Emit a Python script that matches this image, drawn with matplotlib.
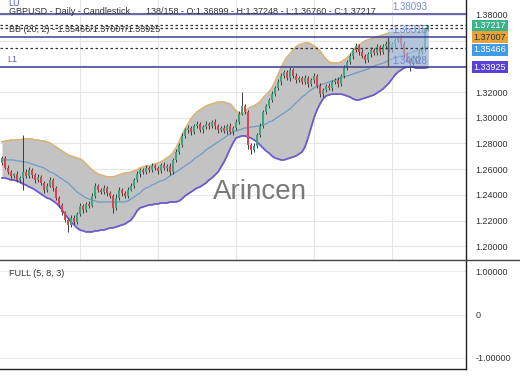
import numpy as np
import matplotlib
matplotlib.use("Agg")
import matplotlib.pyplot as plt
from matplotlib.patches import Rectangle
from matplotlib.lines import Line2D
import matplotlib.transforms as mtransforms

plt.rcParams['font.family'] = ['Liberation Sans', 'DejaVu Sans']

# ---------------- data ----------------
first_open = 1.2650
closes = [
    1.2687, 1.2610, 1.2578, 1.2547, 1.2563, 1.2516, 1.2532, 1.2578, 1.2547, 1.2594,
    1.2555, 1.2516, 1.2540, 1.2493, 1.2439, 1.2470, 1.2516, 1.2454, 1.2376, 1.2322,
    1.2267, 1.2205, 1.2166, 1.2221, 1.2190, 1.2252, 1.2314, 1.2283, 1.2330, 1.2314,
    1.2392, 1.2470, 1.2439, 1.2423, 1.2454, 1.2415, 1.2392, 1.2299, 1.2376, 1.2439,
    1.2415, 1.2392, 1.2439, 1.2470, 1.2516, 1.2563, 1.2594, 1.2578, 1.2610, 1.2594,
    1.2625, 1.2610, 1.2586, 1.2633, 1.2610, 1.2625, 1.2578, 1.2672, 1.2734, 1.2789,
    1.2859, 1.2905, 1.2921, 1.2890, 1.2936, 1.2952, 1.2905, 1.2929, 1.2952, 1.2936,
    1.2968, 1.2936, 1.2905, 1.2921, 1.2897, 1.2936, 1.2890, 1.2921, 1.2968, 1.3030,
    1.3092, 1.3045, 1.2789, 1.2750, 1.2781, 1.2866, 1.2936, 1.3045, 1.3092, 1.3139,
    1.3185, 1.3232, 1.3279, 1.3325, 1.3356, 1.3310, 1.3372, 1.3325, 1.3294, 1.3310,
    1.3279, 1.3310, 1.3263, 1.3294, 1.3325, 1.3248, 1.3185, 1.3217, 1.3248, 1.3232,
    1.3279, 1.3294, 1.3263, 1.3325, 1.3387, 1.3434, 1.3481, 1.3528, 1.3559, 1.3512,
    1.3481, 1.3450, 1.3496, 1.3528, 1.3504, 1.3551, 1.3512, 1.3559, 1.3574, 1.3528,
    1.3574, 1.3606, 1.3621, 1.3574, 1.3496, 1.3450, 1.3418, 1.3465, 1.3450, 1.3512,
    1.3543, 1.36899, 1.37217,
]
wick_up_pips = [
    12, 15, 20, 18, 10, 22, 15, 288, 20, 25,
    18, 14, 22, 16, 12, 20, 25, 15, 12, 14,
    18, 10, 16, 20, 22, 15, 25, 12, 18, 20,
    25, 20, 15, 18, 22, 14, 16, 12, 30, 20,
    18, 15, 22, 25, 16, 20, 14, 18, 22, 15,
    20, 16, 12, 18, 22, 14, 20, 16, 25, 18,
    22, 15, 20, 14, 18, 22, 16, 12, 20, 18,
    15, 22, 18, 14, 20, 16, 25, 18, 22, 20,
    109, 16, 14, 18, 22, 15, 20, 16, 12, 18,
    22, 15, 20, 25, 18, 14, 20, 16, 22, 18,
    15, 20, 14, 18, 22, 16, 20, 15, 18, 22,
    14, 16, 20, 18, 22, 15, 25, 18, 20, 16,
    22, 14, 18, 20, 15, 22, 16, 18, 25, 20,
    14, 18, 16, 22, 20, 15, 18, 22, 16, 20,
    14, 12, 3,
]
wick_dn_pips = [
    15, 12, 18, 20, 14, 16, 22, 93, 18, 15,
    20, 25, 16, 18, 22, 15, 12, 20, 16, 18,
    22, 18, 54, 15, 20, 16, 14, 22, 18, 15,
    12, 18, 20, 16, 14, 22, 18, 40, 15, 18,
    20, 14, 16, 12, 18, 15, 20, 16, 14, 18,
    16, 20, 22, 15, 18, 25, 20, 14, 16, 12,
    18, 15, 20, 22, 16, 14, 18, 20, 15, 22,
    16, 20, 25, 18, 14, 22, 16, 20, 15, 18,
    12, 18, 30, 35, 20, 16, 14, 18, 12, 15,
    14, 18, 16, 20, 15, 18, 22, 16, 20, 14,
    18, 15, 20, 16, 22, 18, 25, 20, 16, 14,
    20, 18, 22, 16, 14, 18, 15, 20, 16, 22,
    18, 20, 15, 22, 18, 16, 20, 15, 22, 18,
    16, 20, 18, 22, 20, 18, 54, 22, 20, 25,
    18, 20, 14,
]
bb_upper = [
    1.2812, 1.2820, 1.2820, 1.2827, 1.2827, 1.2827, 1.2827, 1.2835, 1.2835, 1.2835,
    1.2835, 1.2827, 1.2827, 1.2820, 1.2820, 1.2812, 1.2804, 1.2789, 1.2773, 1.2757,
    1.2742, 1.2726, 1.2711, 1.2703, 1.2695, 1.2687, 1.2680, 1.2664, 1.2641, 1.2617,
    1.2594, 1.2578, 1.2563, 1.2555, 1.2547, 1.2540, 1.2540, 1.2540, 1.2547, 1.2555,
    1.2563, 1.2571, 1.2571, 1.2578, 1.2586, 1.2594, 1.2610, 1.2617, 1.2625, 1.2625,
    1.2633, 1.2641, 1.2648, 1.2656, 1.2672, 1.2687, 1.2703, 1.2726, 1.2765, 1.2812,
    1.2866, 1.2913, 1.2952, 1.2991, 1.3022, 1.3045, 1.3061, 1.3077, 1.3092, 1.3100,
    1.3108, 1.3115, 1.3123, 1.3123, 1.3123, 1.3115, 1.3108, 1.3084, 1.3053, 1.3038,
    1.3030, 1.3045, 1.3069, 1.3084, 1.3092, 1.3108, 1.3123, 1.3154, 1.3178, 1.3201,
    1.3232, 1.3279, 1.3333, 1.3387, 1.3434, 1.3473, 1.3496, 1.3528, 1.3551, 1.3567,
    1.3574, 1.3582, 1.3582, 1.3574, 1.3559, 1.3543, 1.3520, 1.3489, 1.3457, 1.3434,
    1.3426, 1.3426, 1.3426, 1.3434, 1.3450, 1.3465, 1.3489, 1.3520, 1.3551, 1.3567,
    1.3582, 1.3598, 1.3606, 1.3613, 1.3621, 1.3629, 1.3637, 1.3644, 1.3652, 1.3660,
    1.3660, 1.3660, 1.3660, 1.3660, 1.3660, 1.3660, 1.3660, 1.3660, 1.3668, 1.3668,
    1.3676, 1.3691, 1.37007,
]
bb_mid = [
    1.2672, 1.2672, 1.2672, 1.2672, 1.2672, 1.2664, 1.2664, 1.2656, 1.2656, 1.2648,
    1.2641, 1.2633, 1.2625, 1.2617, 1.2610, 1.2594, 1.2578, 1.2571, 1.2555, 1.2540,
    1.2524, 1.2508, 1.2493, 1.2470, 1.2446, 1.2423, 1.2407, 1.2392, 1.2376, 1.2369,
    1.2361, 1.2353, 1.2345, 1.2345, 1.2345, 1.2345, 1.2345, 1.2345, 1.2345, 1.2345,
    1.2345, 1.2345, 1.2353, 1.2369, 1.2384, 1.2400, 1.2415, 1.2439, 1.2454, 1.2462,
    1.2477, 1.2485, 1.2501, 1.2508, 1.2516, 1.2532, 1.2547, 1.2563, 1.2578, 1.2594,
    1.2610, 1.2625, 1.2641, 1.2656, 1.2680, 1.2695, 1.2711, 1.2726, 1.2750, 1.2765,
    1.2781, 1.2796, 1.2812, 1.2827, 1.2843, 1.2859, 1.2874, 1.2890, 1.2897, 1.2905,
    1.2913, 1.2921, 1.2921, 1.2929, 1.2929, 1.2936, 1.2936, 1.2944, 1.2952, 1.2968,
    1.2975, 1.2991, 1.3006, 1.3022, 1.3038, 1.3053, 1.3069, 1.3092, 1.3115, 1.3139,
    1.3162, 1.3178, 1.3201, 1.3217, 1.3232, 1.3248, 1.3255, 1.3263, 1.3271, 1.3279,
    1.3287, 1.3294, 1.3302, 1.3310, 1.3318, 1.3325, 1.3333, 1.3341, 1.3349, 1.3356,
    1.3364, 1.3372, 1.3380, 1.3395, 1.3403, 1.3411, 1.3418, 1.3426, 1.3434, 1.3450,
    1.3457, 1.3465, 1.3473, 1.3481, 1.3489, 1.3496, 1.3504, 1.3512, 1.3520, 1.3528,
    1.3535, 1.3543, 1.35466,
]
bb_lower = [
    1.2532, 1.2532, 1.2524, 1.2516, 1.2516, 1.2508, 1.2501, 1.2485, 1.2477, 1.2462,
    1.2454, 1.2439, 1.2423, 1.2407, 1.2392, 1.2376, 1.2369, 1.2353, 1.2337, 1.2314,
    1.2283, 1.2252, 1.2221, 1.2190, 1.2166, 1.2143, 1.2127, 1.2120, 1.2112, 1.2112,
    1.2112, 1.2120, 1.2120, 1.2127, 1.2127, 1.2135, 1.2143, 1.2143, 1.2151, 1.2158,
    1.2166, 1.2174, 1.2190, 1.2205, 1.2236, 1.2275, 1.2299, 1.2306, 1.2314, 1.2322,
    1.2322, 1.2330, 1.2330, 1.2337, 1.2337, 1.2337, 1.2345, 1.2345, 1.2345, 1.2353,
    1.2369, 1.2392, 1.2407, 1.2423, 1.2439, 1.2454, 1.2462, 1.2477, 1.2493, 1.2516,
    1.2532, 1.2555, 1.2578, 1.2617, 1.2656, 1.2703, 1.2757, 1.2804, 1.2843, 1.2851,
    1.2859, 1.2859, 1.2851, 1.2843, 1.2827, 1.2812, 1.2789, 1.2765, 1.2742, 1.2726,
    1.2703, 1.2687, 1.2680, 1.2672, 1.2672, 1.2680, 1.2687, 1.2695, 1.2703, 1.2719,
    1.2734, 1.2773, 1.2843, 1.2921, 1.2999, 1.3061, 1.3108, 1.3147, 1.3170, 1.3178,
    1.3185, 1.3185, 1.3185, 1.3185, 1.3178, 1.3170, 1.3162, 1.3147, 1.3139, 1.3139,
    1.3147, 1.3154, 1.3162, 1.3170, 1.3178, 1.3193, 1.3209, 1.3224, 1.3248, 1.3271,
    1.3302, 1.3333, 1.3356, 1.3372, 1.3387, 1.3395, 1.3395, 1.3395, 1.3387, 1.3387,
    1.3387, 1.3387, 1.33925,
]

price_ticks = [1.20, 1.22, 1.24, 1.26, 1.28, 1.30, 1.32, 1.34, 1.36, 1.38]
hidden_tick_labels = [1.34, 1.36]   # covered by the price tags in the reference
month_ticks = [26, 52, 78, 104, 130]
level_lu = 1.38093
level_box_top = 1.36315
level_box_low_label = 1.34028
level_l1 = 1.33925
last_close = 1.37217
bb_values = [1.35466, 1.37007, 1.33925]   # mid / upper / lower
title_left = "GBPUSD - Daily - Candlestick"
title_right = "138/158 - O:1.36899 - H:1.37248 - L:1.36760 - C:1.37217"
bb_title = "BB (20, 2) - 1.35466/1.37007/1.33925"
osc_title = "FULL (5, 8, 3)"
osc_ticks = [1.0, 0.0, -1.0]
osc_labels = ["1.00000", "0", "-1.00000"]

# ---------------- figure ----------------
W, H = 520, 390
fig = plt.figure(figsize=(W / 100, H / 100), dpi=100)
ax = fig.add_axes([0, 130 / H, 466 / W, 260 / H])
ax2 = fig.add_axes([0, 21 / H, 466 / W, 109 / H])

n = len(closes)
x = np.arange(n)
c = np.array(closes)
o = np.array([first_open] + closes[:-1])
hi = np.maximum(o, c) + np.array(wick_up_pips) * 1e-4
lo = np.minimum(o, c) - np.array(wick_dn_pips) * 1e-4

ax.set_xlim(-0.67, 154.67)
ax.set_ylim(1.18934, 1.39167)

ax.fill_between(x, bb_lower, bb_upper, color='#c3c3c3', lw=0, zorder=1)
ax.plot(x, bb_upper, color='#d6b47c', lw=1.3, zorder=2)
ax.plot(x, bb_lower, color='#6a5ccf', lw=1.3, zorder=2)
ax.plot(x, bb_mid, color='#6b9bc6', lw=0.9, zorder=2)

# candles
up = c >= o
colors = np.where(up, '#3aa57e', '#e0404f')
ax.vlines(x, lo, hi, color='#3c3c3c', lw=0.7, zorder=3)
heights = np.maximum(np.abs(c - o), 0.0003)
ax.bar(x, heights, bottom=np.minimum(o, c), width=0.8, color=colors, lw=0, zorder=4)

# axes styling
ax.set_yticks(price_ticks)
ax.set_yticklabels(["" if any(abs(t - h) < 1e-9 for h in hidden_tick_labels) else f"{t:.5f}"
                    for t in price_ticks])
ax.yaxis.tick_right()
ax.tick_params(axis='y', length=0, pad=7, labelsize=6.5, labelcolor='#333333')
ax.set_xticks(month_ticks)
ax.tick_params(axis='x', length=0, labelbottom=False)
ax.grid(True, color='#e6e6e6', lw=0.8)
ax.set_axisbelow(True)
for s in ['left', 'top', 'bottom']:
    ax.spines[s].set_visible(False)
ax.spines['right'].set_color('#222222')
ax.spines['right'].set_linewidth(1.0)

# drawing tools: horizontal lines
for lv in [level_lu, level_box_top, level_l1]:
    ax.axhline(lv, color='#3b3f93', lw=1.1, zorder=6)
for lv in [last_close, bb_values[1], bb_values[0]]:
    ax.axhline(lv, color='#333333', lw=0.9, ls=(0, (2, 2)), zorder=6)

# highlighted box
ax.add_patch(Rectangle((128.7, level_l1), 142.4 - 128.7, level_box_top - level_l1 + 0.006,
                       facecolor='#a9c6ef', alpha=0.55, lw=0, zorder=5))
ax.vlines(128.7, level_l1, level_box_top, color='#555555', lw=0.9, zorder=6)
ax.text(130, level_lu + 0.0012, f"{level_lu:.5f}", color='#7b8cd6', fontsize=7, va='bottom', zorder=7)
ax.text(130, level_box_top + 0.0010, f"{level_box_top:.5f}", color='#6f86d4', fontsize=7, va='bottom', zorder=7)
ax.text(130, level_l1 + 0.0012, f"{level_box_low_label:.5f}", color='#6f86d4', fontsize=7, va='bottom', zorder=7)

# price tags on the right
blend = mtransforms.blended_transform_factory(ax.transAxes, ax.transData)
tags = [
    (last_close, '#3bb38a', 'white', -0.3),
    (bb_values[1], '#e5a23a', '#333333', -6.8),
    (bb_values[0], '#3d9be9', 'white', -1.7),
    (level_l1, '#5a40d9', 'white', 0.0),
]
for val, fc, tc, dy in tags:
    ax.annotate(f"{val:.5f}", xy=(1.0, val), xycoords=blend,
                xytext=(5.5, dy), textcoords='offset points',
                ha='left', va='center', fontsize=6.5, color=tc,
                bbox=dict(boxstyle='square,pad=0.16', fc=fc, ec='none'),
                annotation_clip=False, zorder=10)

# lower oscillator panel
ax2.set_xlim(-0.67, 154.67)
ax2.set_ylim(-1.253, 1.253)
ax2.set_yticks(osc_ticks)
ax2.set_yticklabels(osc_labels)
ax2.yaxis.tick_right()
ax2.tick_params(axis='y', length=0, pad=7, labelsize=6.5, labelcolor='#333333')
ax2.set_xticks([])
ax2.grid(True, axis='y', color='#ececec', lw=0.8)
for s in ['left', 'top']:
    ax2.spines[s].set_visible(False)
for s in ['right', 'bottom']:
    ax2.spines[s].set_color('#222222')
    ax2.spines[s].set_linewidth(1.0)

fig.add_artist(Line2D([0, 1], [130 / H, 130 / H], transform=fig.transFigure,
                      color='#444444', lw=1.0))

# texts
def ftxt(px, py, s, **kw):
    fig.text(px / W, 1 - py / H, s, va='center', ha='left', **kw)

ftxt(8, 4, "LU", fontsize=6.5, color='#5a66c6')
ftxt(9, 12, title_left, fontsize=6.5, color='#333333')
ftxt(146, 12, title_right, fontsize=6.5, color='#333333')
ftxt(9, 30, bb_title, fontsize=6.5, color='#333333')
ftxt(7, 59, "L1", fontsize=6.5, color='#5a66c6')
ftxt(9, 273, osc_title, fontsize=6.5, color='#333333')
fig.text(260 / W, 1 - 192 / H, "Arincen", fontsize=20, color='#6a6a6a',
         ha='center', va='center', alpha=0.9, zorder=20)

fig.savefig("out.png", dpi=100)
